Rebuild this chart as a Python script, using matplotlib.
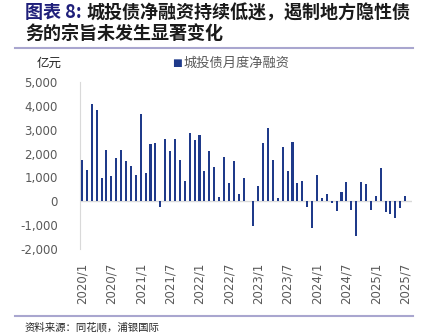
import matplotlib
matplotlib.use('Agg')
import matplotlib.pyplot as plt
from matplotlib.lines import Line2D

plt.rcParams['font.family'] = ['Noto Sans CJK SC', 'DejaVu Sans']

# monthly labels 2020/1 .. 2025/7
months = [f'{y}/{m}' for y in range(2020, 2026) for m in range(1, 13)][:67]

# 城投债月度净融资 (亿元)
net_financing = [
    1740, 1320, 4090, 3840, 990, 2130, 1060, 1800, 2130, 1700, 1460, 1100,   # 2020
    3670, 1200, 2410, 2450, -260, 2620, 2090, 2620, 1720, 850, 2870, 2550,   # 2021
    2790, 1270, 2120, 1420, 200, 1840, 750, 1670, 310, 990, 0, -1030,        # 2022
    630, 2440, 3070, 1740, 130, 2290, 1270, 2500, 750, 850, -220, -1120,     # 2023
    1090, 140, 290, -80, -390, 390, 790, -350, -1450, 790, 710, -380,        # 2024
    240, 1380, -470, -520, -710, -280, 240,                                  # 2025
]
tick_labels = ['2020/1', '2020/7', '2021/1', '2021/7', '2022/1', '2022/7',
               '2023/1', '2023/7', '2024/1', '2024/7', '2025/1', '2025/7']
yticks = [-2000, -1000, 0, 1000, 2000, 3000, 4000, 5000]

bar_color = '#1F3A8A'
navy = '#1F1F7A'
rule = '#A9A6CF'
gray = '#595959'

fig = plt.figure(figsize=(4.28, 3.35), dpi=100)
ax = fig.add_axes([80/428, 1 - 249/335, (412 - 80)/428, (249 - 82)/335])

x = list(range(len(months)))
ax.bar(x, net_financing, width=0.42, color=bar_color, zorder=3)
ax.axhline(0, color='#D9D9D9', lw=1, zorder=2)

ax.set_ylim(-2000, 5000)
ax.set_xlim(-0.4, 67.4)
ax.set_yticks(yticks)
ax.set_yticklabels([f'{v:,}' for v in yticks], color=gray, fontsize=8.5, family='DejaVu Sans')
ax.set_xticks([months.index(t) for t in tick_labels])
ax.set_xticklabels(tick_labels, rotation=90, color=gray, fontsize=8.5, family='DejaVu Sans')
ax.tick_params(axis='x', length=0, pad=10)
ax.tick_params(axis='y', length=0, pad=16)

for s in ['top', 'right', 'bottom']:
    ax.spines[s].set_visible(False)
ax.spines['left'].set_color('#D9D9D9')
ax.spines['left'].set_bounds(-2000, 5000)

# unit label
fig.text(37/428, 1 - 63/335, '亿元', fontsize=9, color='#262626', va='center')

# legend
fig.text(172/428, 1 - 63/335, '■', fontsize=7.5, color=bar_color, va='center', family='DejaVu Sans')
fig.text(184/428, 1 - 63/335, '城投债月度净融资', fontsize=9.5, color=gray, va='center')

# title
fig.text(25/428, 1 - 13/335, '图表 8:', fontsize=13, color=navy, weight='bold', va='center')
fig.text(86/428, 1 - 13/335, '城投债净融资持续低迷，遏制地方隐性债', fontsize=13,
         color='#1A1A1A', weight='bold', va='center')
fig.text(25/428, 1 - 34/335, '务的宗旨未发生显著变化', fontsize=13, color='#1A1A1A',
         weight='bold', va='center')

# separator rules
fig.add_artist(Line2D([15/428, 413/428], [1 - 48/335, 1 - 48/335], color=rule, lw=1.5))
fig.add_artist(Line2D([15/428, 413/428], [1 - 316/335, 1 - 316/335], color=rule, lw=1.5))

# source
fig.text(25/428, 1 - 327/335, '资料来源：同花顺，浦银国际', fontsize=7.5, color='#262626', va='center')

fig.savefig('out.png', dpi=100)
